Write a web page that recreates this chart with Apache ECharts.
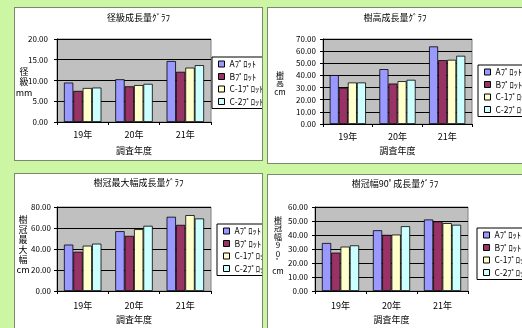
<!DOCTYPE html>
<html><head><meta charset="utf-8">
<script src="https://cdn.jsdelivr.net/npm/echarts@6/dist/echarts.min.js"></script>
<style>
html,body{margin:0;padding:0;width:522px;height:328px;overflow:hidden;background:#cdf6a4;}
.p{position:absolute;background:#fff;border:1px solid #7b8a6e;overflow:hidden;}
</style></head><body>
<div id="c1" class="p" style="left:14px;top:7px;width:247px;height:152px"></div>
<div id="c2" class="p" style="left:267px;top:7px;width:254px;height:155px"></div>
<div id="c3" class="p" style="left:14px;top:173px;width:247px;height:160px"></div>
<div id="c4" class="p" style="left:267px;top:174px;width:254px;height:160px"></div>
<script>
const categories = ['19年', '20年', '21年'];
const seriesNames = ['Aﾌﾟﾛｯﾄ', 'Bﾌﾟﾛｯﾄ', 'C-1ﾌﾟﾛｯﾄ', 'C-2ﾌﾟﾛｯﾄ'];
const xAxisName = '調査年度';

// 径級成長量
const diamA = [9.5, 10.3, 14.7];
const diamB = [7.5, 8.6, 12.1];
const diamC1 = [8.2, 8.9, 13.1];
const diamC2 = [8.3, 9.2, 13.7];
// 樹高成長量
const heightA = [40.3, 45.2, 63.9];
const heightB = [29.8, 33.3, 52.6];
const heightC1 = [34.2, 35.3, 52.9];
const heightC2 = [34.2, 36.4, 56.2];
// 樹冠最大幅成長量
const crownMaxA = [44.2, 57.0, 70.7];
const crownMaxB = [37.4, 52.5, 63.0];
const crownMaxC1 = [43.2, 58.9, 72.3];
const crownMaxC2 = [45.1, 62.1, 69.1];
// 樹冠幅90ﾟ成長量
const crown90A = [34.3, 43.4, 51.1];
const crown90B = [27.4, 40.1, 49.7];
const crown90C1 = [31.7, 40.3, 48.5];
const crown90C2 = [32.6, 46.3, 47.3];

// y tick settings: [min, max, interval]
const ticks1 = [0, 20, 5];
const ticks2 = [0, 70, 10];
const ticks3 = [0, 80, 20];
const ticks4 = [0, 60, 10];

const colors = ['#9999ff', '#993366', '#ffffcc', '#ccffff'];
const FONT = '"Noto Sans CJK JP", "Noto Sans", sans-serif';

function build(cfg) {
  const ts = { fontFamily: FONT, fontSize: 9, color: '#000' };
  return {
    animation: false,
    title: { text: cfg.title, left: 'center', top: cfg.titleTop, padding: 0,
      textStyle: Object.assign({}, ts, { fontWeight: 'normal' }) },
    legend: {
      orient: 'vertical', left: cfg.legend[0], top: cfg.legend[1],
      backgroundColor: '#fff', borderColor: '#000', borderWidth: 1,
      padding: [2, 3, 2, 6], itemGap: 2.5, itemWidth: 6, itemHeight: 6,
      icon: 'rect',
      itemStyle: { borderColor: '#000', borderWidth: 1 },
      textStyle: Object.assign({}, ts, { fontSize: 8.5, lineHeight: 10 }),
      data: seriesNames
    },
    grid: { left: cfg.grid[0], top: cfg.grid[1], width: cfg.grid[2], height: cfg.grid[3],
      show: true, backgroundColor: '#c0c0c0', borderColor: '#808080', borderWidth: 1 },
    xAxis: {
      type: 'category', data: categories,
      name: xAxisName, nameLocation: 'middle', nameGap: cfg.nameGap,
      nameTextStyle: ts,
      axisLine: { lineStyle: { color: '#000', width: 1 } },
      axisTick: { show: true, length: 3, lineStyle: { color: '#000' } },
      axisLabel: Object.assign({}, ts, { margin: cfg.labelMargin })
    },
    yAxis: {
      type: 'value', min: cfg.ticks[0], max: cfg.ticks[1], interval: cfg.ticks[2],
      axisLine: { show: true, lineStyle: { color: '#000', width: 1 } },
      axisTick: { show: true, length: 3, lineStyle: { color: '#000' } },
      axisLabel: Object.assign({}, ts, { fontSize: 8, margin: cfg.yMargin, formatter: v => v.toFixed(2) }),
      splitLine: { lineStyle: { color: '#000', width: 1 } }
    },
    graphic: [{
      type: 'text', x: cfg.yName[0], y: cfg.yName[1],
      style: { text: cfg.yNameText, font: cfg.yName[3] + 'px ' + FONT, fill: '#000',
        lineHeight: cfg.yName[2], align: 'center', verticalAlign: 'middle' }
    }],
    series: cfg.data.map((d, i) => ({
      name: seriesNames[i], type: 'bar', data: d,
      barGap: '0%', barCategoryGap: '27%',
      itemStyle: { color: colors[i], borderColor: '#000', borderWidth: 0.8 }
    }))
  };
}

const cfgs = [
  { id: 'c1', title: '径級成長量ｸﾞﾗﾌ', titleTop: 5, legend: [197, 49], grid: [42, 31, 154, 84],
    nameGap: 24, labelMargin: 8, yMargin: 9, ticks: ticks1, yNameText: '径\n級\nmm', yName: [9, 74, 10.5, 9],
    data: [diamA, diamB, diamC1, diamC2] },
  { id: 'c2', title: '樹高成長量ｸﾞﾗﾌ', titleTop: 5, legend: [210, 57], grid: [55, 31, 149, 85],
    nameGap: 21, labelMargin: 8, yMargin: 7, ticks: ticks2, yNameText: '樹\n高\ncm', yName: [12, 75, 8.5, 8],
    data: [heightA, heightB, heightC1, heightC2] },
  { id: 'c3', title: '樹冠最大幅成長量ｸﾞﾗﾌ', titleTop: 4, legend: [202, 50], grid: [42, 33, 154, 84],
    nameGap: 22, labelMargin: 10, yMargin: 6, ticks: ticks3, yNameText: '樹\n冠\n最\n大\n幅\ncm', yName: [8, 71, 10, 9],
    data: [crownMaxA, crownMaxB, crownMaxC1, crownMaxC2] },
  { id: 'c4', title: '樹冠幅90ﾟ成長量ｸﾞﾗﾌ', titleTop: 4, legend: [209, 53], grid: [47, 32, 153, 84],
    nameGap: 22, labelMargin: 10, yMargin: 7, ticks: ticks4, yNameText: '樹\n冠\n幅\n9\n0\nﾟ\ncm', yName: [10, 70, 8.5, 8],
    data: [crown90A, crown90B, crown90C1, crown90C2] }
];

cfgs.forEach(c => {
  const chart = echarts.init(document.getElementById(c.id), null, { renderer: 'canvas' });
  chart.setOption(build(c));
});
</script>
</body></html>
